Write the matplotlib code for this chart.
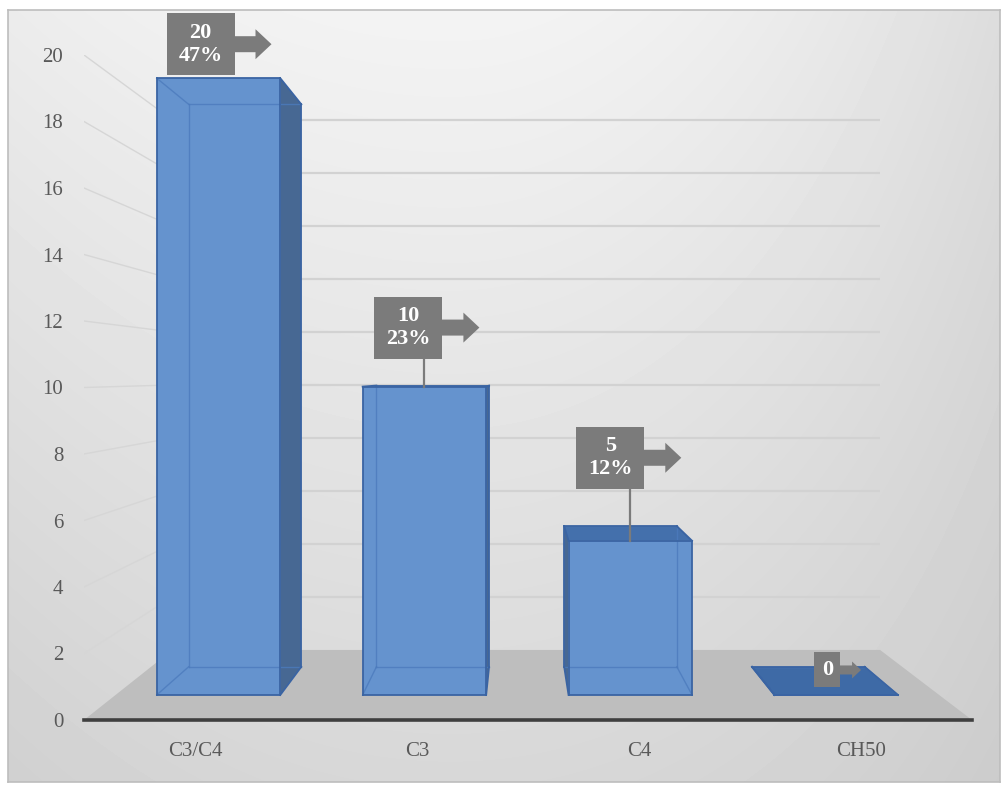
import matplotlib

matplotlib.use("Agg")
import matplotlib.pyplot as plt
import numpy as np
from matplotlib.patches import Polygon
from matplotlib.transforms import IdentityTransform

# chart data
categories = ["C3/C4", "C3", "C4", "CH50"]
counts = [20, 10, 5, 0]
share_labels = ["47%", "23%", "12%", None]
y_ticks = [0, 2, 4, 6, 8, 10, 12, 14, 16, 18, 20]

# figure size in pixels
W, H = 1001, 785

# perspective of the 3-D floor/walls, in data units of the front plane
VP_X = 1.46      # vanishing point, category axis
VP_V = 10.38     # vanishing point, value axis
DEPTH_K = 0.2547 # shrink of the back wall (s = 1 / (1 + k*z))
BAR_HALF = 0.3
BAR_Z = (0.307, 0.715)

# callout placement relative to the bar top, in pixels (x right, y up)
callout_offsets = [(-18, 34), (-16, 59), (-20, 83), (-9, 25)]

TEXT_GRAY = "#595959"
FRONT = "#6593CE"
SIDE = "#476893"
TOP = "#4470AC"
EDGE = "#3A64A3"
INNER = "#4C7BBD"
CALLOUT = "#7B7B7B"


def px_box(left, top, right, bottom):
    return [left / W, 1 - bottom / H, (right - left) / W, (bottom - top) / H]


def proj(X, V, z):
    s = 1.0 / (1.0 + DEPTH_K * z)
    return VP_X + (X - VP_X) * s, VP_V + (V - VP_V) * s


def poly_area(pts):
    p = np.asarray(pts)
    return 0.5 * abs(np.dot(p[:, 0], np.roll(p[:, 1], 1)) - np.dot(p[:, 1], np.roll(p[:, 0], 1)))


fig = plt.figure(figsize=(W / 100, H / 100), dpi=100)
fig.patch.set_facecolor("white")

# soft gray gradient behind the chart
bg = fig.add_axes(px_box(8, 10, 1000, 782), zorder=0)
gy, gx = np.mgrid[10:782, 8:1000].astype(float)
right = np.clip((gx - 450) / 550, 0, None) ** 2
left = np.clip((450 - gx) / 450, 0, None) ** 2
shade = 0.955 - 0.11 * gy / 780 - 0.09 * right * (1 - 0.5 * gy / 780) - 0.03 * left
bg.imshow(shade, cmap="gray", vmin=0, vmax=1, aspect="auto", interpolation="bilinear")
bg.set_xticks([])
bg.set_yticks([])
for sp in bg.spines.values():
    sp.set_color("#BDBDBD")
    sp.set_linewidth(1.2)

ax = fig.add_axes(px_box(84, 55, 972, 720), zorder=1)
ax.patch.set_visible(False)
ax.set_xlim(-0.5, 3.5)
ax.set_ylim(0, 20)

# walls: gridlines on the back wall and the receding lines on the left wall
for v in y_ticks[1:]:
    bx, by = zip(proj(-0.5, v, 1), proj(3.5, v, 1))
    ax.plot(bx, by, color="#D2D2D2", lw=1.6, zorder=1, solid_capstyle="butt")
    lx, ly = zip(proj(-0.5, v, 0), proj(-0.5, v, 1))
    ax.plot(lx, ly, color="#D6D6D6", lw=1.0, zorder=1)

# floor
floor = [proj(-0.5, 0, 0), proj(3.5, 0, 0), proj(3.5, 0, 1), proj(-0.5, 0, 1)]
ax.add_patch(Polygon(floor, closed=True, facecolor="#BEBEBE", edgecolor="none", zorder=2))

# bars drawn as see-through boxes
z0, z1 = BAR_Z
for i, v in enumerate(counts):
    x0, x1 = i - BAR_HALF, i + BAR_HALF
    c = {
        (a, b, d): proj(xx, vv, zz)
        for a, xx in enumerate((x0, x1))
        for b, vv in enumerate((0, v))
        for d, zz in enumerate((z0, z1))
    }
    faces = {
        "front": [c[0, 0, 0], c[1, 0, 0], c[1, 1, 0], c[0, 1, 0]],
        "left": [c[0, 0, 0], c[0, 0, 1], c[0, 1, 1], c[0, 1, 0]],
        "right": [c[1, 0, 0], c[1, 0, 1], c[1, 1, 1], c[1, 1, 0]],
        "top": [c[0, 1, 0], c[1, 1, 0], c[1, 1, 1], c[0, 1, 1]],
    }
    visible = {"front": True, "left": x0 > VP_X, "right": x1 < VP_X, "top": v < VP_V}
    colors = {"front": FRONT, "left": SIDE, "right": SIDE, "top": TOP if v > 0 else "#3E6AA6"}

    for name in ("left", "right", "top", "front"):
        if visible[name] and poly_area(faces[name]) > 1e-6:
            ax.add_patch(Polygon(faces[name], closed=True, facecolor=colors[name],
                                 edgecolor="none", zorder=3))

    edges = []
    for a in (0, 1):
        for b in (0, 1):
            edges.append(((a, b, 0), (a, b, 1), {"left" if a == 0 else "right", "top" if b else "bottom"}))
    for a in (0, 1):
        for d in (0, 1):
            edges.append(((a, 0, d), (a, 1, d), {"left" if a == 0 else "right", "front" if d == 0 else "back"}))
    for b in (0, 1):
        for d in (0, 1):
            edges.append(((0, b, d), (1, b, d), {"top" if b else "bottom", "front" if d == 0 else "back"}))
    for p, q, owners in edges:
        shown = any(visible.get(o, False) for o in owners)
        ex, ey = zip(c[p], c[q])
        if shown:
            ax.plot(ex, ey, color=EDGE, lw=1.3, zorder=4.5)
        else:
            ax.plot(ex, ey, color=INNER, lw=1.0, alpha=0.8, zorder=4)

# value / share callouts with a small right-pointing arrow
ident = IdentityTransform()
for i, v in enumerate(counts):
    anchor = ax.transData.transform(proj(i, v, z0))
    dx, dy = callout_offsets[i]
    cx, cy = anchor[0] + dx, anchor[1] + dy
    if share_labels[i]:
        w, h = 68, 62
        text = f"{v}\n{share_labels[i]}"
    else:
        w, h = 26, 35
        text = f"{v}"
    k = h / 62
    shaft_len, head_len, shaft_hh, head_hh = 21 * k, 16 * k, 8 * k, 15 * k

    box_bottom = cy - h / 2
    if box_bottom - anchor[1] > 10:
        ax.plot([anchor[0], anchor[0]], [anchor[1], box_bottom], color=CALLOUT,
                lw=1.6, transform=ident, zorder=5, clip_on=False)

    rx = cx + w / 2
    box = [(cx - w / 2, cy - h / 2), (rx, cy - h / 2), (rx, cy + h / 2), (cx - w / 2, cy + h / 2)]
    arrow = [(rx - 1, cy - shaft_hh), (rx + shaft_len, cy - shaft_hh), (rx + shaft_len, cy - head_hh),
             (rx + shaft_len + head_len, cy), (rx + shaft_len, cy + head_hh),
             (rx + shaft_len, cy + shaft_hh), (rx - 1, cy + shaft_hh)]
    for shape in (box, arrow):
        ax.add_patch(Polygon(shape, closed=True, facecolor=CALLOUT, edgecolor="none",
                             transform=ident, zorder=6, clip_on=False))
    ax.text(cx, cy, text, transform=ident, ha="center", va="center", color="white",
            fontsize=16, fontweight="bold", family="Liberation Serif",
            linespacing=1.2, zorder=7)

# axes styling
ax.set_xticks(range(len(categories)))
ax.set_xticklabels(categories)
ax.set_yticks(y_ticks)
ax.set_yticklabels([str(t) for t in y_ticks])
ax.tick_params(axis="both", length=0, labelsize=15, labelcolor=TEXT_GRAY)
ax.tick_params(axis="y", pad=15)
ax.tick_params(axis="x", pad=16)
for lab in ax.get_xticklabels() + ax.get_yticklabels():
    lab.set_family("Liberation Serif")
for name in ("top", "left", "right"):
    ax.spines[name].set_visible(False)
ax.spines["bottom"].set_color("#3F3F3F")
ax.spines["bottom"].set_linewidth(2.6)
ax.spines["bottom"].set_zorder(8)

fig.savefig("out.png", dpi=100)
